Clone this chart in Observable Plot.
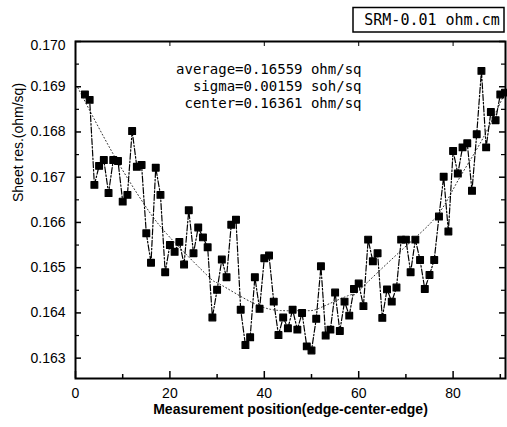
<!DOCTYPE html>
<html><head><meta charset="utf-8">
<script src="https://cdn.jsdelivr.net/npm/d3@7"></script>
<script src="https://cdn.jsdelivr.net/npm/@observablehq/plot@0.6"></script>
<style>body{margin:0;background:#fff}svg{display:block}</style>
</head><body><div id="chart"></div>
<script>
const positions = [2,3,4,5,6,7,8,9,10,11,12,13,14,15,16,17,18,19,20,21,22,23,24,25,26,27,28,29,30,31,32,33,34,35,36,37,38,39,40,41,42,43,44,45,46,47,48,49,50,51,52,53,54,55,56,57,58,59,60,61,62,63,64,65,66,67,68,69,70,71,72,73,74,75,76,77,78,79,80,81,82,83,84,85,86,87,88,89,90,91];
const sheetRes = [0.16883,0.16871,0.16683,0.16725,0.16738,0.16665,0.16738,0.16736,0.16646,0.16661,
  0.16802,0.16723,0.16727,0.16576,0.16511,0.16721,0.16661,0.16490,0.16550,0.16535,
  0.16557,0.16507,0.16627,0.16532,0.16589,0.16567,0.16545,0.16390,0.16451,0.16518,
  0.16479,0.16595,0.16606,0.16407,0.16329,0.16346,0.16479,0.16409,0.16521,0.16527,
  0.16425,0.16351,0.16390,0.16366,0.16407,0.16363,0.16400,0.16326,0.16317,0.16387,
  0.16503,0.16350,0.16363,0.16445,0.16360,0.16425,0.16394,0.16453,0.16465,0.16415,
  0.16562,0.16514,0.16532,0.16389,0.16452,0.16425,0.16456,0.16562,0.16562,0.16490,
  0.16562,0.16517,0.16453,0.16484,0.16517,0.16613,0.16701,0.16580,0.16758,0.16708,
  0.16766,0.16775,0.16670,0.16795,0.16935,0.16766,0.16844,0.16826,0.16883,0.16887];
const fitPositions = [0.5,8,14.5,20,28,30.5,38,44,49,52,58.3,60,69,76.6,81,86,91];
const fitValues = [0.16898,0.16751,0.16641,0.16567,0.16482,0.16464,0.16420,0.16405,0.16405,0.16412,0.16440,0.16449,0.16538,0.16615,0.16692,0.16780,0.16887];
const xMajorTicks = [0,20,40,60,80];
const xMinorTicks = [10,30,50,70,90];
const yMajorTicks = [0.163,0.164,0.165,0.166,0.167,0.168,0.169,0.170];
const yMinorTicks = [0.1635,0.1645,0.1655,0.1665,0.1675,0.1685,0.1695];
const statsLines = ["average=0.16559 ohm/sq","sigma=0.00159 soh/sq","center=0.16361 ohm/sq"];
const legendLabel = "SRM-0.01 ohm.cm";
const xTitle = "Measurement position(edge-center-edge)";
const yTitle = "Sheet res.(ohm/sq)";

const measurements = positions.map((x, i) => ({x, v: sheetRes[i]}));
const fit = fitPositions.map((x, i) => ({x, v: fitValues[i]}));

const W = 507, H = 427, mL = 75, mR = 2, mT = 41, mB = 49;
const iW = W - mL - mR, iH = H - mT - mB;
const fmt = d3.format(".3f");

const svg = Plot.plot({
  width: W, height: H,
  marginLeft: mL, marginRight: mR, marginTop: mT, marginBottom: mB,
  style: {fontFamily: "'Liberation Sans', Arial, sans-serif", fontSize: "14px", background: "#fff", color: "#000"},
  x: {domain: [0, 91.1]},
  y: {domain: [0.16255, 0.170]},
  marks: [
    Plot.line(fit, {x: "x", y: "v", curve: "natural", stroke: "#333", strokeWidth: 1, strokeDasharray: "1,2.5", clip: true}),
    Plot.line(measurements, {x: "x", y: "v", stroke: "#000", strokeWidth: 1.2, strokeDasharray: "6,2,1.5,2"}),
    Plot.dot(measurements, {x: "x", y: "v", symbol: "square", r: 3.8, fill: "#000", stroke: "#000", strokeWidth: 1.2, strokeLinejoin: "round"}),
    Plot.ruleX(xMajorTicks, {insetTop: iH - 7, strokeWidth: 1.5}),
    Plot.ruleX(xMinorTicks, {insetTop: iH - 4, strokeWidth: 1.5}),
    Plot.ruleX(xMajorTicks, {insetBottom: iH - 5, strokeWidth: 1}),
    Plot.ruleY(yMajorTicks, {insetRight: iW - 6, strokeWidth: 1.5}),
    Plot.ruleY(yMinorTicks, {insetRight: iW - 4, strokeWidth: 1.2}),
    Plot.ruleY(yMajorTicks, {insetLeft: iW - 6, strokeWidth: 1.5}),
    Plot.ruleY(yMinorTicks, {insetLeft: iW - 4, strokeWidth: 1.2}),
    Plot.frame({stroke: "#000", strokeWidth: 2}),
    Plot.axisX({ticks: xMajorTicks, tickSize: 0, tickPadding: 10, tickFormat: d => String(d), label: null, fontSize: 14}),
    Plot.axisY({ticks: yMajorTicks.slice(0, -1), tickSize: 0, tickPadding: 10, tickFormat: fmt, label: null, fontSize: 14}),
    Plot.axisY({ticks: yMajorTicks.slice(-1), tickSize: 0, tickPadding: 10, tickFormat: fmt, label: null, fontSize: 14, dy: 4}),
    Plot.text([xTitle], {frameAnchor: "bottom", dy: 35, fontWeight: "bold", fontSize: 14}),
    Plot.text([yTitle], {frameAnchor: "left", dx: -57, dy: -8, rotate: -90, fontSize: 14}),
    Plot.text([statsLines.join("\n")], {frameAnchor: "top-left", dx: 286, dy: 44, lineAnchor: "middle", textAnchor: "end", lineHeight: 1.214, fontFamily: "'DejaVu Sans Mono', monospace", fontSize: 14})
  ]
});

const sel = d3.select(svg);
const g = sel.append("g");
g.append("rect").attr("x", 353).attr("y", 7.5).attr("width", 151).attr("height", 24.5)
  .attr("fill", "#fff").attr("stroke", "#000").attr("stroke-width", 1.5);
g.append("text").attr("x", 432).attr("y", 20).attr("text-anchor", "middle").attr("dy", "0.35em")
  .attr("font-family", "'DejaVu Sans Mono', monospace").attr("font-size", 15).text(legendLabel);

document.getElementById("chart").appendChild(svg);
</script></body></html>
